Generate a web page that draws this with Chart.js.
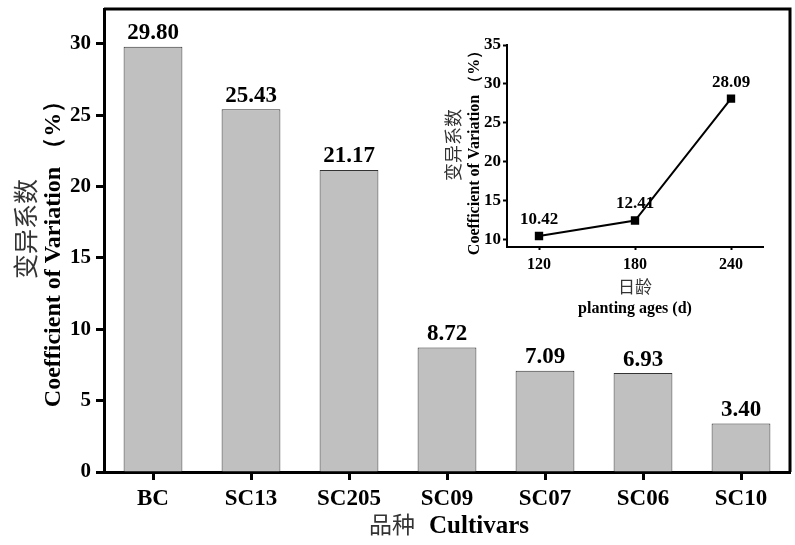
<!DOCTYPE html>
<html>
<head>
<meta charset="utf-8">
<script src="https://cdn.jsdelivr.net/npm/chart.js@4/dist/chart.umd.min.js"></script>
<style>
  body { margin: 0; background: #fff; }
  #wrap { position: relative; width: 795px; height: 545px; }
  #mainChart { position: absolute; left: 0; top: 0; }
  #insetChart { position: absolute; left: 420px; top: 30px; }
</style>
</head>
<body>
<div id="wrap">
  <canvas id="mainChart" width="795" height="545"></canvas>
  <canvas id="insetChart" width="360" height="290"></canvas>
</div>
<script>
// data
const cultivars = ['BC', 'SC13', 'SC205', 'SC09', 'SC07', 'SC06', 'SC10'];
const cultivarCv = [29.80, 25.43, 21.17, 8.72, 7.09, 6.93, 3.40];
const ages = [120, 180, 240];
const ageCv = [10.42, 12.41, 28.09];
const mainTicks = [0, 5, 10, 15, 20, 25, 30];
const insetTicks = [10, 15, 20, 25, 30, 35];

const SERIF = '"Liberation Serif", "Times New Roman", serif';
const CJK = '"Noto Sans CJK SC", sans-serif';

// draws box frame, value labels and two-font axis titles
const decor = {
    id: 'decor',
    afterDatasetsDraw(chart, args, opts) {
        const ctx = chart.ctx;
        const a = chart.chartArea;
        ctx.save();
        if (opts.frame) {
            ctx.strokeStyle = '#000';
            ctx.lineWidth = opts.frame;
            ctx.beginPath();
            ctx.moveTo(a.left, a.top);
            ctx.lineTo(a.right, a.top);
            ctx.lineTo(a.right, a.bottom);
            ctx.stroke();
        }
        // value labels
        ctx.fillStyle = '#000';
        ctx.font = opts.labelFont;
        ctx.textAlign = 'center';
        ctx.textBaseline = 'bottom';
        const meta = chart.getDatasetMeta(0);
        const vals = chart.data.datasets[0].data;
        meta.data.forEach((el, i) => {
            const v = typeof vals[i] === 'object' ? vals[i].y : vals[i];
            ctx.fillText(v.toFixed(2), el.x, el.y - opts.labelGap);
        });
        // y titles
        opts.yTitles.forEach(t => {
            ctx.save();
            ctx.translate(t.x, t.y);
            ctx.rotate(-Math.PI / 2);
            ctx.font = t.font;
            ctx.fillStyle = t.color;
            ctx.textAlign = 'center';
            ctx.textBaseline = 'middle';
            ctx.fillText(t.text, 0, 0);
            ctx.restore();
        });
        // x title lines (each may have several parts, sharing a baseline)
        opts.xTitles.forEach(line => {
            let total = 0;
            line.parts.forEach(p => { ctx.font = p.font; p.w = ctx.measureText(p.text).width; total += p.w; });
            total += (line.parts.length - 1) * line.gap;
            let x = line.x - total / 2;
            ctx.textAlign = 'left';
            ctx.textBaseline = 'alphabetic';
            line.parts.forEach(p => {
                ctx.font = p.font;
                ctx.fillStyle = p.color;
                ctx.fillText(p.text, x, line.y);
                x += p.w + line.gap;
            });
        });
        ctx.restore();
    }
};

new Chart(document.getElementById('mainChart'), {
    type: 'bar',
    data: {
        labels: cultivars,
        datasets: [{
            data: cultivarCv,
            backgroundColor: '#c0c0c0',
            borderColor: '#333',
            borderWidth: 1,
            barPercentage: 0.6,
            categoryPercentage: 1
        }]
    },
    options: {
        responsive: false,
        animation: false,
        layout: { padding: { top: 9, right: 5, left: 0, bottom: 0 } },
        plugins: {
            legend: { display: false },
            tooltip: { enabled: false },
            decor: {
                frame: 3,
                labelFont: 'bold 23px ' + SERIF,
                labelGap: 2,
                yTitles: [
                    { text: '变异系数', x: 25, y: 229, font: '25px ' + CJK, color: '#333' },
                    { text: 'Coefficient of Variation （%）', x: 54, y: 248, font: 'bold 24px ' + SERIF, color: '#000' }
                ],
                xTitles: [
                    { x: 449, y: 533, gap: 14, parts: [
                        { text: '品种', font: '23px ' + CJK, color: '#333' },
                        { text: 'Cultivars', font: 'bold 25px ' + SERIF, color: '#000' }
                    ] }
                ]
            }
        },
        scales: {
            x: {
                afterFit: s => { s.height = 73; s.paddingLeft = 0; s.paddingRight = 0; },
                grid: { offset: false, drawOnChartArea: false, drawTicks: true, tickLength: 8, tickWidth: 3, tickColor: '#000' },
                border: { display: true, color: '#000', width: 3 },
                ticks: { color: '#000', padding: 5, font: { family: SERIF, size: 23, weight: 'bold' } }
            },
            y: {
                min: 0,
                max: 32.45,
                afterFit: s => { s.width = 104; s.paddingTop = 0; s.paddingBottom = 0; },
                afterBuildTicks: s => { s.ticks = mainTicks.map(v => ({ value: v })); },
                grid: { drawOnChartArea: false, drawTicks: true, tickLength: 8, tickWidth: 3, tickColor: '#000' },
                border: { display: true, color: '#000', width: 3 },
                ticks: { color: '#000', padding: 5, font: { family: SERIF, size: 21, weight: 'bold' } }
            }
        }
    },
    plugins: [decor]
});

new Chart(document.getElementById('insetChart'), {
    type: 'line',
    data: {
        datasets: [{
            data: ages.map((a, i) => ({ x: a, y: ageCv[i] })),
            borderColor: '#000',
            borderWidth: 2,
            backgroundColor: '#000',
            pointStyle: 'rect',
            pointRadius: 4.5,
            pointBackgroundColor: '#000',
            pointBorderColor: '#000',
            tension: 0
        }]
    },
    options: {
        responsive: false,
        animation: false,
        layout: { padding: { top: 15, right: 17, left: 0, bottom: 0 } },
        plugins: {
            legend: { display: false },
            tooltip: { enabled: false },
            decor: {
                frame: 0,
                labelFont: 'bold 17px ' + SERIF,
                labelGap: 8,
                yTitles: [
                    { text: '变异系数', x: 33, y: 115, font: '18px ' + CJK, color: '#333' },
                    { text: 'Coefficient of Variation （%）', x: 55, y: 119, font: 'bold 16px ' + SERIF, color: '#000' }
                ],
                xTitles: [
                    { x: 215, y: 263, gap: 0, parts: [{ text: '日龄', font: '17px ' + CJK, color: '#333' }] },
                    { x: 215, y: 283, gap: 0, parts: [{ text: 'planting ages (d)', font: 'bold 16px ' + SERIF, color: '#000' }] }
                ]
            }
        },
        scales: {
            x: {
                type: 'linear',
                min: 100,
                max: 260,
                afterFit: s => { s.height = 73; s.paddingLeft = 0; s.paddingRight = 0; },
                afterBuildTicks: s => { s.ticks = ages.map(v => ({ value: v })); },
                grid: { drawOnChartArea: false, drawTicks: true, tickLength: 3, tickWidth: 2, tickColor: '#000' },
                border: { display: true, color: '#000', width: 2 },
                ticks: { color: '#000', padding: 5, font: { family: SERIF, size: 16, weight: 'bold' } }
            },
            y: {
                min: 9,
                max: 35,
                afterFit: s => { s.width = 87; s.paddingTop = 0; s.paddingBottom = 0; },
                afterBuildTicks: s => { s.ticks = insetTicks.map(v => ({ value: v })); },
                grid: { drawOnChartArea: false, drawTicks: true, tickLength: 4, tickWidth: 2, tickColor: '#000' },
                border: { display: true, color: '#000', width: 2 },
                ticks: { color: '#000', padding: 2, font: { family: SERIF, size: 17, weight: 'bold' } }
            }
        }
    },
    plugins: [decor]
});
</script>
</body>
</html>
